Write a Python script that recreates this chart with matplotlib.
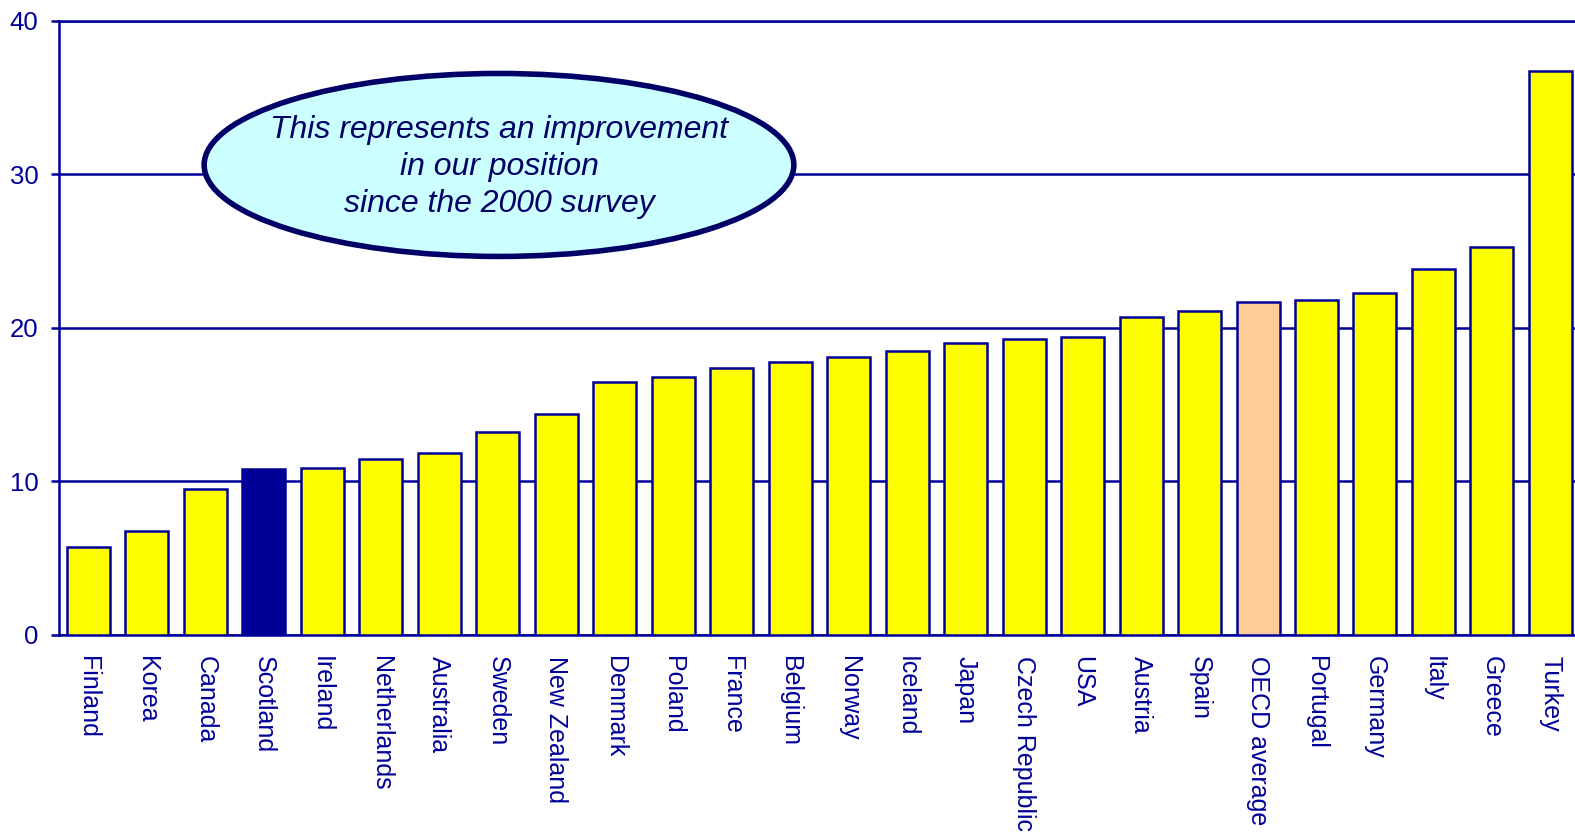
import matplotlib
matplotlib.use("Agg")
import matplotlib.pyplot as plt
from matplotlib.patches import Ellipse

countries = ["Finland", "Korea", "Canada", "Scotland", "Ireland", "Netherlands",
             "Australia", "Sweden", "New Zealand", "Denmark", "Poland", "France",
             "Belgium", "Norway", "Iceland", "Japan", "Czech Republic", "USA",
             "Austria", "Spain", "OECD average", "Portugal", "Germany", "Italy",
             "Greece", "Turkey"]
values = [5.7, 6.8, 9.5, 10.8, 10.9, 11.45, 11.85, 13.25, 14.4, 16.5, 16.8, 17.4,
          17.8, 18.1, 18.5, 19.0, 19.25, 19.4, 20.7, 21.1, 21.7, 21.85, 22.25, 23.85,
          25.25, 36.75]
yticks = [0, 10, 20, 30, 40]
note_text = "This represents an improvement\nin our position\nsince the 2000 survey"

NAVY = "#000099"
DARK = "#000066"
colors = []
for c in countries:
    if c == "Scotland":
        colors.append(NAVY)
    elif c == "OECD average":
        colors.append("#FFCC99")
    else:
        colors.append("#FFFF00")

plt.rcParams['font.family'] = ['Liberation Sans', 'DejaVu Sans']

fig = plt.figure(figsize=(15.75, 8.32), dpi=100)
ax = fig.add_axes([0.0375, 0.2368, 0.9625, 0.738])

x = list(range(len(countries)))
ax.bar(x, values, width=0.735, color=colors, edgecolor=NAVY, linewidth=1.8, zorder=3)

ax.set_xlim(-0.5, len(countries) - 0.58)
ax.set_ylim(0, 40)
ax.set_yticks(yticks)
ax.set_yticklabels([str(v) for v in yticks], fontsize=18.5, color=NAVY)
ax.set_xticks(x)
ax.set_xticklabels(countries, rotation=-90, fontsize=18, color=NAVY, va='top', ha='center')
ax.tick_params(axis='x', length=0, pad=15)
ax.tick_params(axis='y', length=5.8, width=1.8, color=NAVY, pad=9)

ax.grid(axis='y', color=NAVY, linewidth=1.8, zorder=0)
ax.set_axisbelow(True)
for s in ['left', 'bottom', 'top']:
    ax.spines[s].set_color(NAVY)
    ax.spines[s].set_linewidth(1.8)
ax.spines['right'].set_visible(False)

ell = Ellipse((0.2902, 0.7655), 0.389, 0.298, transform=ax.transAxes,
              facecolor="#CCFFFF", edgecolor=DARK, linewidth=4, zorder=5)
ax.add_patch(ell)
ax.text(0.2902, 0.762, note_text, transform=ax.transAxes, ha='center', va='center',
        fontsize=23, style='italic', color=DARK, linespacing=1.3, zorder=6)

fig.savefig("out.png", dpi=100)
